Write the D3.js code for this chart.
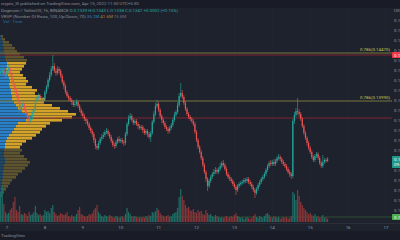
<!DOCTYPE html>
<html>
<head>
<meta charset="utf-8">
<script src="https://cdn.jsdelivr.net/npm/d3@7"></script>
<style>
    body { margin: 0; background: #1e222d; }
    svg { display: block; }
</style>
</head>
<body>
<div id="chart"></div>
<script>
const WIDTH = 400;
const HEIGHT = 240;

// hourly DOGE/USDT candles, first one at Apr 6 20:00
const START = new Date(2022, 3, 6, 20);
const closes = [
    0.1428,0.1430,0.1426,0.1425,0.1429,0.1432,0.1426,0.1420,0.1416,0.1410,
    0.1405,0.1399,0.1390,0.1394,0.1396,0.1391,0.1386,0.1383,0.1379,0.1382,
    0.1388,0.1391,0.1399,0.1402,0.1404,0.1402,0.1399,0.1401,0.1408,0.1413,
    0.1420,0.1425,0.1431,0.1434,0.1429,0.1427,0.1431,0.1429,0.1424,0.1418,
    0.1414,0.1408,0.1404,0.1402,0.1400,0.1398,0.1395,0.1396,0.1398,0.1394,
    0.1390,0.1387,0.1384,0.1381,0.1379,0.1376,0.1372,0.1369,0.1366,0.1360,
    0.1354,0.1352,0.1357,0.1361,0.1363,0.1365,0.1368,0.1369,0.1366,0.1363,
    0.1359,0.1355,0.1354,0.1358,0.1361,0.1359,0.1360,0.1358,0.1357,0.1366,
    0.1376,0.1382,0.1384,0.1380,0.1377,0.1379,0.1376,0.1374,0.1372,0.1373,
    0.1370,0.1367,0.1369,0.1366,0.1363,0.1367,0.1378,0.1386,0.1394,0.1396,
    0.1390,0.1384,0.1380,0.1377,0.1373,0.1371,0.1369,0.1372,0.1375,0.1380,
    0.1385,0.1388,0.1395,0.1404,0.1407,0.1403,0.1397,0.1391,0.1386,0.1383,
    0.1381,0.1379,0.1376,0.1368,0.1360,0.1353,0.1348,0.1342,0.1335,0.1328,
    0.1321,0.1314,0.1319,0.1323,0.1326,0.1328,0.1330,0.1328,0.1331,0.1334,
    0.1337,0.1335,0.1331,0.1326,0.1323,0.1321,0.1319,0.1316,0.1313,0.1310,
    0.1314,0.1316,0.1317,0.1318,0.1320,0.1319,0.1321,0.1318,0.1316,0.1313,
    0.1310,0.1307,0.1311,0.1315,0.1318,0.1321,0.1323,0.1326,0.1330,0.1334,
    0.1337,0.1336,0.1338,0.1336,0.1339,0.1342,0.1343,0.1341,0.1338,0.1336,
    0.1334,0.1331,0.1328,0.1326,0.1324,0.1379,0.1385,0.1389,0.1388,0.1386,
    0.1381,0.1374,0.1367,0.1362,0.1357,0.1352,0.1348,0.1343,0.1340,0.1344,
    0.1346,0.1342,0.1337,0.1334,0.1338,0.1340,0.1339,0.1341
];
const highs = [
    0.1431,0.1433,0.1432,0.1428,0.1431,0.1435,0.1433,0.1428,0.1422,0.1418,
    0.1412,0.1407,0.1400,0.1396,0.1399,0.1398,0.1393,0.1388,0.1385,0.1384,
    0.1390,0.1393,0.1401,0.1405,0.1407,0.1406,0.1404,0.1403,0.1410,0.1415,
    0.1422,0.1428,0.1434,0.1445,0.1437,0.1432,0.1434,0.1433,0.1431,0.1426,
    0.1420,0.1416,0.1410,0.1406,0.1404,0.1402,0.1400,0.1399,0.1401,0.1400,
    0.1396,0.1392,0.1389,0.1386,0.1383,0.1381,0.1378,0.1374,0.1371,0.1368,
    0.1362,0.1356,0.1359,0.1363,0.1366,0.1368,0.1370,0.1372,0.1371,0.1368,
    0.1365,0.1361,0.1357,0.1360,0.1363,0.1364,0.1362,0.1362,0.1360,0.1368,
    0.1378,0.1385,0.1387,0.1386,0.1382,0.1381,0.1381,0.1378,0.1376,0.1375,
    0.1375,0.1372,0.1371,0.1371,0.1368,0.1369,0.1380,0.1389,0.1397,0.1400,
    0.1398,0.1392,0.1386,0.1382,0.1379,0.1375,0.1373,0.1374,0.1377,0.1382,
    0.1388,0.1390,0.1398,0.1407,0.1417,0.1410,0.1405,0.1399,0.1393,0.1388,
    0.1385,0.1383,0.1381,0.1378,0.1370,0.1362,0.1355,0.1350,0.1344,0.1337,
    0.1330,0.1323,0.1321,0.1325,0.1328,0.1331,0.1333,0.1332,0.1333,0.1337,
    0.1339,0.1340,0.1337,0.1333,0.1328,0.1325,0.1323,0.1321,0.1318,0.1315,
    0.1316,0.1318,0.1319,0.1320,0.1322,0.1322,0.1323,0.1323,0.1320,0.1318,
    0.1315,0.1312,0.1313,0.1317,0.1320,0.1323,0.1325,0.1328,0.1332,0.1336,
    0.1339,0.1340,0.1340,0.1341,0.1341,0.1344,0.1346,0.1345,0.1343,0.1340,
    0.1338,0.1336,0.1333,0.1330,0.1328,0.1381,0.1388,0.1392,0.1402,0.1391,
    0.1388,0.1383,0.1376,0.1369,0.1364,0.1359,0.1354,0.1350,0.1345,0.1346,
    0.1348,0.1348,0.1344,0.1339,0.1345,0.1342,0.1342,0.1343
];
const lows = [
    0.1425,0.1426,0.1424,0.1422,0.1423,0.1427,0.1424,0.1418,0.1413,0.1407,
    0.1403,0.1396,0.1387,0.1388,0.1392,0.1389,0.1384,0.1380,0.1376,0.1377,
    0.1380,0.1386,0.1389,0.1397,0.1400,0.1400,0.1396,0.1397,0.1399,0.1406,
    0.1411,0.1418,0.1423,0.1429,0.1427,0.1424,0.1425,0.1426,0.1422,0.1416,
    0.1411,0.1406,0.1402,0.1399,0.1398,0.1395,0.1393,0.1393,0.1394,0.1392,
    0.1388,0.1384,0.1382,0.1379,0.1376,0.1374,0.1370,0.1367,0.1363,0.1357,
    0.1351,0.1350,0.1350,0.1355,0.1359,0.1361,0.1363,0.1366,0.1364,0.1361,
    0.1357,0.1353,0.1351,0.1352,0.1356,0.1357,0.1357,0.1356,0.1354,0.1355,
    0.1364,0.1374,0.1380,0.1378,0.1375,0.1375,0.1374,0.1371,0.1370,0.1370,
    0.1367,0.1365,0.1365,0.1363,0.1361,0.1358,0.1365,0.1376,0.1384,0.1392,
    0.1388,0.1382,0.1377,0.1375,0.1371,0.1369,0.1366,0.1367,0.1370,0.1373,
    0.1378,0.1383,0.1386,0.1393,0.1402,0.1401,0.1395,0.1389,0.1384,0.1381,
    0.1379,0.1377,0.1374,0.1366,0.1358,0.1351,0.1346,0.1340,0.1333,0.1326,
    0.1318,0.1309,0.1312,0.1317,0.1321,0.1324,0.1326,0.1326,0.1326,0.1329,
    0.1332,0.1333,0.1329,0.1324,0.1321,0.1319,0.1317,0.1314,0.1311,0.1305,
    0.1308,0.1312,0.1314,0.1315,0.1316,0.1317,0.1317,0.1316,0.1314,0.1311,
    0.1308,0.1302,0.1305,0.1309,0.1313,0.1316,0.1319,0.1321,0.1324,0.1328,
    0.1332,0.1334,0.1334,0.1334,0.1334,0.1337,0.1340,0.1339,0.1336,0.1334,
    0.1332,0.1329,0.1326,0.1323,0.1321,0.1322,0.1376,0.1383,0.1385,0.1383,
    0.1379,0.1372,0.1365,0.1360,0.1354,0.1350,0.1346,0.1341,0.1338,0.1338,
    0.1342,0.1340,0.1335,0.1332,0.1332,0.1336,0.1337,0.1338
];
// volume in millions of DOGE
const volumes = [
    150,180,90,50,40,45,60,70,100,125,
    60,50,80,40,35,45,40,30,50,35,
    40,50,80,45,35,40,30,35,60,50,
    55,45,70,85,50,40,30,35,45,40,
    35,40,50,30,25,35,30,25,40,60,
    75,40,35,30,25,30,40,35,45,60,
    70,85,50,40,30,25,35,30,25,35,
    30,25,20,30,25,20,25,30,20,40,
    70,50,40,30,25,30,25,20,25,20,
    25,20,30,25,35,30,50,45,55,70,
    60,45,35,30,25,30,35,25,30,40,
    45,50,70,125,165,130,110,85,70,75,
    60,55,65,50,45,60,50,55,40,35,
    60,45,35,40,30,25,35,30,25,20,
    25,20,25,30,20,25,30,25,35,45,
    30,25,20,25,15,20,25,20,15,20,
    30,40,25,20,30,25,20,30,40,45,
    35,25,20,30,25,20,25,15,20,25,
    20,25,15,20,30,150,140,110,160,130,
    100,85,70,60,50,40,45,35,30,40,
    25,30,20,25,35,20,25,15
];

// visible range volume profile, rows of 0.0003 from the top price down
const profileTop = 0.1465;
const profileStep = 0.0003;
const profileUp = [1,2,3,3,4,4,5,5,6,7, 7,6,6,8,9,10,9,10,11,11,
    12,12,14,16,18,22,28,32,26,18, 16,14,12,9,7,6,5,5,4,4,
    4,5,5,4,4,3,3,3,2,2, 2,1,1,1];
const profileDown = [2,3,6,9,11,13,15,19,21,19, 17,16,14,15,17,18,17,22,26,24,
    28,33,30,36,42,46,48,40,36,32, 30,28,28,27,25,20,17,15,18,16,
    20,22,25,24,21,19,15,13,10,8, 6,5,3,1];
const valueArea = [0.1350, 0.1438];

const fibLevels = [0.1447, 0.1399];
const redLevels = [0.1445, 0.1382];
const greenLevel = 0.1283;
const dayTicks = d3.timeDay.range(new Date(2022, 3, 7), new Date(2022, 3, 18));

const PLOT_RIGHT = 392;
const PLOT_BOTTOM = 223;
const FONT = "Roboto, 'Liberation Sans', sans-serif";

const candles = closes.map((c, i) => ({
    date: d3.timeHour.offset(START, i),
    open: i ? closes[i - 1] : 0.1427,
    close: c,
    high: highs[i],
    low: lows[i],
    volume: volumes[i]
}));
const last = candles[candles.length - 1];

const x = d3.scaleTime()
    .domain([new Date(2022, 3, 7), new Date(2022, 3, 17)])
    .range([7, 386]);
const y = d3.scaleLinear()
    .domain([0.15, 0.1283])
    .range([0, 217]);
const yVol = d3.scaleLinear()
    .domain([0, 180])
    .range([222, 186]);
const xProfile = d3.scaleLinear()
    .domain([0, 80])
    .range([0, 80]);

const svg = d3.select("#chart").append("svg")
    .attr("width", WIDTH)
    .attr("height", HEIGHT)
    .style("font-family", FONT);

svg.append("rect").attr("width", WIDTH).attr("height", HEIGHT).attr("fill", "#1e222d");
svg.append("rect").attr("width", WIDTH).attr("height", 8).attr("fill", "#191c26");
svg.append("rect").attr("y", 231).attr("width", WIDTH).attr("height", 9).attr("fill", "#191c26");

svg.append("clipPath").attr("id", "plot")
    .append("rect").attr("x", 0).attr("y", 8).attr("width", PLOT_RIGHT).attr("height", PLOT_BOTTOM - 8);

const plot = svg.append("g").attr("clip-path", "url(#plot)");

// grid
const priceTicks = y.ticks(20);
plot.append("g").selectAll("line")
    .data(dayTicks)
    .join("line")
    .attr("x1", d => x(d)).attr("x2", d => x(d))
    .attr("y1", 8).attr("y2", PLOT_BOTTOM)
    .attr("stroke", "#242834").attr("stroke-width", 0.6);
plot.append("g").selectAll("line")
    .data(priceTicks)
    .join("line")
    .attr("x1", 0).attr("x2", PLOT_RIGHT)
    .attr("y1", d => y(d)).attr("y2", d => y(d))
    .attr("stroke", "#232733").attr("stroke-width", 0.6);

// volume profile
const rows = profileUp.map((u, k) => ({
    top: profileTop - k * profileStep,
    up: u,
    down: profileDown[k]
}));
const inVA = d => d.top - profileStep / 2 >= valueArea[0] && d.top - profileStep / 2 <= valueArea[1];
const prof = plot.append("g");
prof.selectAll("rect.up")
    .data(rows)
    .join("rect")
    .attr("class", "up")
    .attr("x", 0)
    .attr("y", d => y(d.top))
    .attr("width", d => xProfile(d.up))
    .attr("height", d => y(d.top - profileStep) - y(d.top) - 0.4)
    .attr("fill", d => inVA(d) ? "#2a80c6" : "#1f4866");
prof.selectAll("rect.down")
    .data(rows)
    .join("rect")
    .attr("class", "down")
    .attr("x", d => xProfile(d.up))
    .attr("y", d => y(d.top))
    .attr("width", d => xProfile(d.down))
    .attr("height", d => y(d.top - profileStep) - y(d.top) - 0.4)
    .attr("fill", d => inVA(d) ? "#d2a229" : "#5e532f");

// horizontal levels
plot.selectAll("line.fib")
    .data(fibLevels)
    .join("line")
    .attr("class", "fib")
    .attr("x1", 0).attr("x2", PLOT_RIGHT)
    .attr("y1", d => y(d)).attr("y2", d => y(d))
    .attr("stroke", "#77763c").attr("stroke-width", 1);
plot.selectAll("line.red")
    .data(redLevels)
    .join("line")
    .attr("class", "red")
    .attr("x1", 0).attr("x2", PLOT_RIGHT)
    .attr("y1", d => y(d)).attr("y2", d => y(d))
    .attr("stroke", "#7d2630").attr("stroke-width", 1);
plot.append("line")
    .attr("x1", 0).attr("x2", PLOT_RIGHT)
    .attr("y1", y(greenLevel)).attr("y2", y(greenLevel))
    .attr("stroke", "#2c4f33").attr("stroke-width", 1);

// volume bars
const up = d => d.close >= d.open;
plot.append("g").selectAll("rect")
    .data(candles)
    .join("rect")
    .attr("x", d => x(d.date) - 0.6)
    .attr("y", d => yVol(d.volume))
    .attr("width", 1.2)
    .attr("height", d => yVol(0) - yVol(d.volume))
    .attr("fill", d => up(d) ? "#1f6e66" : "#8a3538");

// candles
const cg = plot.append("g").selectAll("g")
    .data(candles)
    .join("g");
cg.append("line")
    .attr("x1", d => x(d.date)).attr("x2", d => x(d.date))
    .attr("y1", d => y(d.high)).attr("y2", d => y(d.low))
    .attr("stroke", d => up(d) ? "#26a69a" : "#ef5350")
    .attr("stroke-width", 0.6);
cg.append("rect")
    .attr("x", d => x(d.date) - 0.6)
    .attr("y", d => y(Math.max(d.open, d.close)))
    .attr("width", 1.2)
    .attr("height", d => Math.max(0.6, Math.abs(y(d.open) - y(d.close))))
    .attr("fill", d => up(d) ? "#26a69a" : "#ef5350");

// fib labels
plot.selectAll("text.fib")
    .data(fibLevels)
    .join("text")
    .attr("class", "fib")
    .attr("x", 390)
    .attr("y", d => y(d) - 1.6)
    .attr("text-anchor", "end")
    .attr("font-size", 4.4)
    .attr("fill", "#c9c85a")
    .text(d => "0.786(" + d3.format(".5f")(d) + ")");

// time axis
svg.append("line")
    .attr("x1", 0).attr("x2", WIDTH)
    .attr("y1", PLOT_BOTTOM + 0.5).attr("y2", PLOT_BOTTOM + 0.5)
    .attr("stroke", "#2a2e39").attr("stroke-width", 1);
svg.append("g").selectAll("text")
    .data(dayTicks)
    .join("text")
    .attr("x", d => x(d))
    .attr("y", 229)
    .attr("text-anchor", "middle")
    .attr("font-size", 4.4)
    .attr("fill", "#9598a1")
    .text(d => d.getDate());

// price axis
svg.append("g").selectAll("text")
    .data(priceTicks.filter(d => y(d) > 12 && y(d) < 220))
    .join("text")
    .attr("x", 394)
    .attr("y", d => y(d) + 1.5)
    .attr("font-size", 4.4)
    .attr("fill", "#9598a1")
    .text(d => d3.format(".4f")(d));
svg.append("text")
    .attr("x", 394).attr("y", 12)
    .attr("font-size", 4.4).attr("fill", "#9598a1")
    .text("USDT");

const tag = (price, fill, lines) => {
    const g = svg.append("g");
    g.append("rect")
        .attr("x", PLOT_RIGHT).attr("y", y(price) - 3)
        .attr("width", 10).attr("height", 6 * lines.length)
        .attr("rx", 0.8)
        .attr("fill", fill);
    g.selectAll("text")
        .data(lines)
        .join("text")
        .attr("x", 394)
        .attr("y", (d, i) => y(price) + 1.5 + i * 5.5)
        .attr("font-size", 4.4)
        .attr("fill", "#ffffff")
        .text(d => d);
};
tag(redLevels[0], "#f23645", [d3.format(".4f")(redLevels[0])]);
tag(last.close, "#1f998c", [d3.format(".4f")(last.close), "09:10"]);
tag(greenLevel, "#4caf50", [d3.format(".4f")(greenLevel)]);

// header
const header = svg.append("g").attr("font-size", 4.4);
header.append("text").attr("x", 1).attr("y", 5.3).attr("fill", "#8a8d96")
    .text("crypto_SI published on TradingView.com, Apr 15, 2022 11:50 UTC+5:30");
const l2 = header.append("text").attr("x", 1).attr("y", 12.3);
l2.append("tspan").attr("fill", "#8a8d96").text("Dogecoin / TetherUS, 1h, BINANCE  ");
l2.append("tspan").attr("fill", "#26a69a")
    .text("O:" + d3.format(".4f")(last.open) + " H:" + d3.format(".4f")(last.high) +
        " L:" + d3.format(".4f")(last.low) + " C:" + d3.format(".4f")(last.close) +
        " +0.0002 (+0.15%)");
const l3 = header.append("text").attr("x", 1).attr("y", 17.6);
l3.append("tspan").attr("fill", "#8a8d96").text("VRVP (Number Of Rows, 100, Up/Down, 70)  ");
l3.append("tspan").attr("fill", "#2a80c6").text("35.2M ");
l3.append("tspan").attr("fill", "#b08a2a").text("41.6M ");
l3.append("tspan").attr("fill", "#6b6e77").text("76.8M");
header.append("text").attr("x", 3).attr("y", 22.8).attr("fill", "#2a6fa8").text("Vol · Time");

svg.append("text")
    .attr("x", 1).attr("y", 237)
    .attr("font-size", 4.4).attr("fill", "#8a8d96")
    .text("TradingView");
</script>
</body>
</html>
